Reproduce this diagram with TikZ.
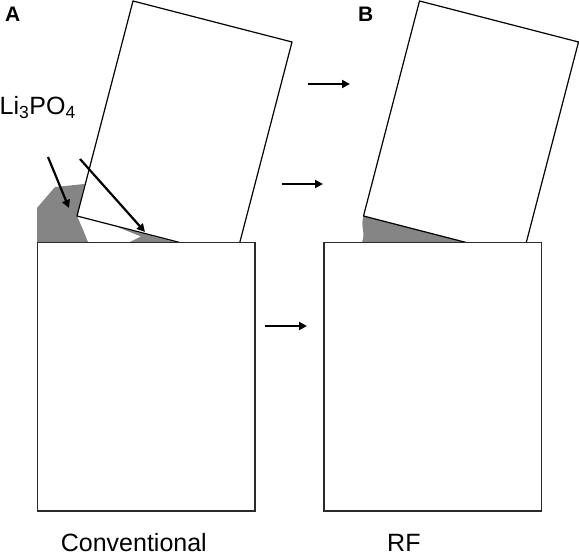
\documentclass[tikz,border=0pt]{standalone}
\usepackage{fontspec}
\setmainfont{Liberation Sans}
\usetikzlibrary{arrows.meta}
\definecolor{layerGray}{HTML}{858585}
\definecolor{edgeDark}{HTML}{2B2B2B}
\tikzset{
    electrode/.style={draw=edgeDark, fill=white, line width=1.3pt},
    particle/.style={draw=black, line width=1.2pt, line join=miter},
    coating/.style={fill=layerGray, draw=none},
    arrow/.style={-{Triangle[length=8pt, width=8pt]}, line width=2.2pt, draw=black},
    caption/.style={inner sep=0pt, anchor=base west, font=\fontsize{25}{30}\selectfont},
    panel/.style={inner sep=0pt, anchor=base west, font=\fontsize{21}{24}\selectfont\bfseries},
}
\begin{document}
\begin{tikzpicture}[x=1pt, y=-1pt]
    \useasboundingbox (0,0) rectangle (579,556);

    % Coating layers
    \fill[coating] (37,242) -- (37,208) -- (55,187) -- (84.5,184) -- (77,216)
        .. controls (81,225) and (84,232) .. (88,242) -- cycle;
    \fill[coating] (118,227.3) -- (175,242) -- (130,242) -- (141,236.5) -- cycle;
    \fill[coating] (363.5,216) -- (464,242) -- (362,242)
        .. controls (366,234) and (360,226) .. cycle;

    % Tilted particles
    \draw[particle] (133,1) -- (292,42) -- (236,257) -- (77,216) -- cycle;
    \draw[particle] (419.5,1) -- (578.5,42) -- (522.5,257) -- (363.5,216) -- cycle;

    % Substrate electrodes
    \draw[electrode] (37.5,242.5) rectangle (255,511);
    \draw[electrode] (324,242.5) rectangle (541.5,511);

    % Labels
    \node[panel] (labA) at (5,21.5) {A};
    \node[panel] (labB) at (358,21.5) {B};
    \node[caption] (lipo) at (-0.5,115) {Li\textsubscript{3}PO\textsubscript{4}};
    \node[caption] (conv) at (60.7,551) {Conventional};
    \node[caption] (rf) at (387,551) {RF};

    % Arrows
    \coordinate (lipoA) at (48,157);
    \coordinate (lipoB) at (80,159);
    \coordinate (edgeL) at (69,208);
    \coordinate (edgeR) at (145,232);
    \draw[arrow] (lipoA) -- (edgeL);
    \draw[arrow] (lipoB) -- (edgeR);

    \coordinate (topS) at (308,84);   \coordinate (topE) at (350,84);
    \coordinate (midS) at (282,184);  \coordinate (midE) at (323,184);
    \coordinate (lowS) at (265,326);  \coordinate (lowE) at (307,326);
    \draw[arrow] (topS) -- (topE);
    \draw[arrow] (midS) -- (midE);
    \draw[arrow] (lowS) -- (lowE);
\end{tikzpicture}
\end{document}
